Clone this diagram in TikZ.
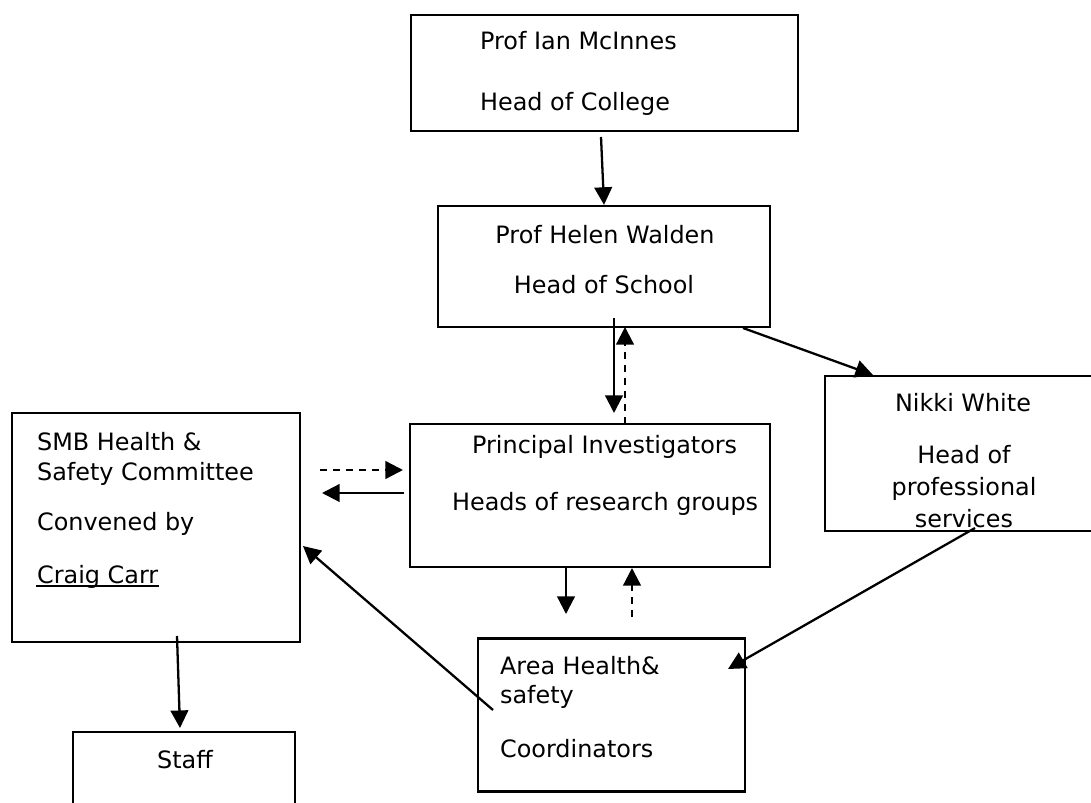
\documentclass[tikz,border=0pt]{standalone}
\usepackage{fontspec}
\setmainfont{DejaVu Sans}
\usepackage{xcolor}
\usetikzlibrary{arrows.meta}

\tikzset{
    box/.style={draw, rectangle, line width=1.3pt, inner sep=0pt},
    txt/.style={inner sep=0pt, anchor=base west, font=\fontsize{13.6}{16}\selectfont},
    ctxt/.style={txt, anchor=base},
    dashline/.style={dash pattern=on 4pt off 3.4pt},
}

\begin{document}
\begin{tikzpicture}[x=0.02cm, y=-0.02cm, line width=1.3pt, >={Triangle[length=10pt, width=10pt]}]
    \clip (0, 0) rectangle (1091, 803);

    % boxes
    \node (college) at (604.5, 73) [box, minimum width=7.74cm, minimum height=2.32cm] {};
    \node (school) at (604, 266.5) [box, minimum width=6.64cm, minimum height=2.42cm] {};
    \node (nikki) at (962.5, 453.5) [box, minimum width=5.5cm, minimum height=3.1cm] {};
    \node (pi) at (590, 495.5) [box, minimum width=7.2cm, minimum height=2.86cm] {};
    \node (smb) at (156, 527.5) [box, minimum width=5.76cm, minimum height=4.58cm] {};
    \node (area) at (611.5, 715) [box, minimum width=5.34cm, minimum height=3.06cm] {};
    \node (staff) at (184, 771) [box, minimum width=4.44cm, minimum height=1.56cm] {};

    % texts
    \node (college1) at (479, 50) [txt] {Prof Ian McInnes};
    \node (college2) at (479, 111) [txt] {Head of College};
    \node (school1) at (605, 244) [ctxt] {Prof Helen Walden};
    \node (school2) at (604, 294) [ctxt] {Head of School};
    \node (nikki1) at (963, 412) [ctxt] {Nikki White};
    \node (nikki2) at (964, 463) [ctxt] {Head of};
    \node (nikki3) at (964, 495) [ctxt] {professional};
    \node (nikki4) at (964, 527) [ctxt] {services};
    \node (pi1) at (471, 453) [txt] {Principal Investigators};
    \node (pi2) at (451, 510) [txt] {Heads of research groups};
    \node (smb1) at (36, 450) [txt] {SMB Health \&};
    \node (smb2) at (36, 480) [txt] {Safety Committee};
    \node (smb3) at (36, 530) [txt] {Convened by};
    \node (craig) at (36, 583) [txt] {Craig Carr};
    \node (area1) at (499, 674) [txt] {Area Health\&};
    \node (area2) at (499, 703) [txt] {safety};
    \node (area3) at (499, 757) [txt] {Coordinators};
    \node (staff1) at (156, 768) [txt] {Staff};

    \draw[line width=0.8pt] ([yshift=-0.06cm]craig.base west) -- ([yshift=-0.06cm]craig.base east);

    % arrow ends
    \coordinate (collegeout) at (601, 137);
    \coordinate (schooldown) at (614, 318);
    \coordinate (pitop) at (614, 413);
    \coordinate (piup) at (625, 424);
    \coordinate (schoolbot) at (625, 327);
    \coordinate (schoolright) at (743, 328);
    \coordinate (nikkitop) at (873, 375);
    \coordinate (smbout) at (320, 470);
    \coordinate (pileft) at (403, 470);
    \coordinate (piout) at (404, 493);
    \coordinate (smbin) at (322, 493);
    \coordinate (pibot) at (566, 567);
    \coordinate (areatop) at (566, 614);
    \coordinate (areaup) at (632, 617);
    \coordinate (pibotin) at (632, 568);
    \coordinate (areaout) at (493, 710);
    \coordinate (smbside) at (303, 546);
    \coordinate (nikkiout) at (975, 528);
    \coordinate (areain) at (728, 669);
    \coordinate (smbbot) at (177, 636);
    \coordinate (stafftop) at (180, 728);

    \draw[->] (collegeout) to (school.north);
    \draw[->] (schooldown) to (pitop);
    \draw[->, dashline] (piup) to (schoolbot);
    \draw[->] (schoolright) to (nikkitop);
    \draw[->, dashline] (smbout) to (pileft);
    \draw[->] (piout) to (smbin);
    \draw[->] (pibot) to (areatop);
    \draw[->, dashline] (areaup) to (pibotin);
    \draw[->] (areaout) to (smbside);
    \draw[->] (nikkiout) to (areain);
    \draw[->] (smbbot) to (stafftop);
\end{tikzpicture}
\end{document}
